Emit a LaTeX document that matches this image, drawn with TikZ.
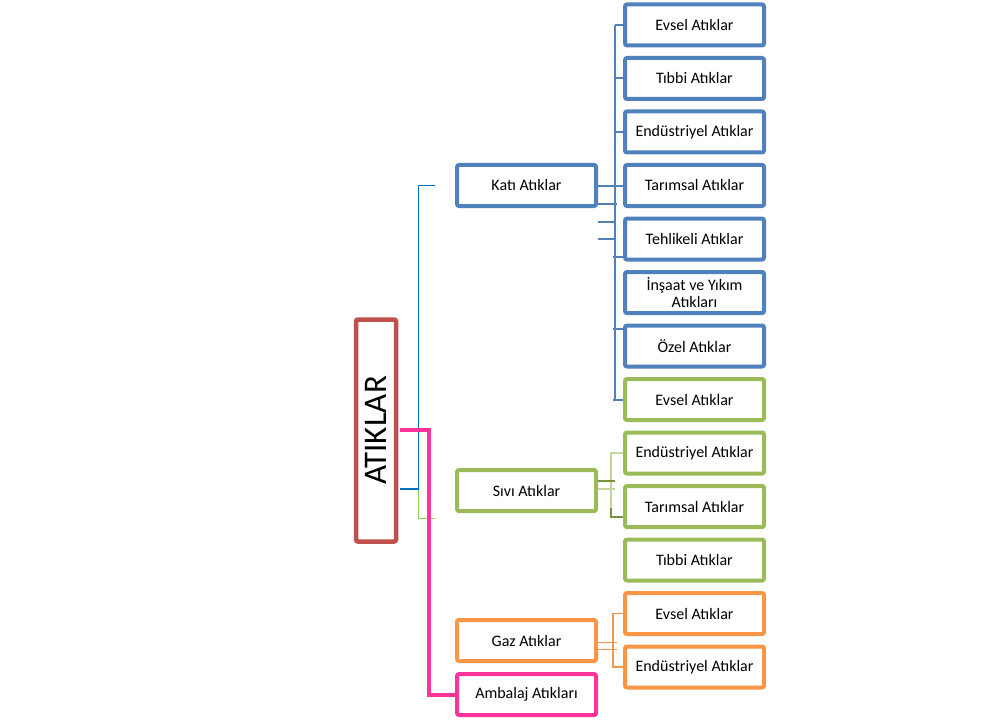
\documentclass[tikz,border=0pt]{standalone}
\usepackage{fontspec}
\setmainfont{Carlito}
\usetikzlibrary{calc,positioning}
\usepackage{xcolor}

\definecolor{katiblue}{HTML}{4F81BD}
\definecolor{sivigreen}{HTML}{9BBB59}
\definecolor{gazorange}{HTML}{F79646}
\definecolor{atikred}{HTML}{C0504D}
\definecolor{ambalajpink}{HTML}{FF3399}
\definecolor{linkblue}{HTML}{0070C0}
\definecolor{linkgreen}{HTML}{92D050}
\definecolor{sivilight}{HTML}{C3D69B}
\definecolor{sividark}{HTML}{77933C}

\tikzset{
  kutu/.style={draw, fill=white, rounded corners=2pt, line width=4pt,
    minimum width=139pt, minimum height=41pt, inner sep=2pt, align=center,
    font=\fontsize{16}{17}\selectfont},
  katikutu/.style={kutu, draw=katiblue},
  sivikutu/.style={kutu, draw=sivigreen},
  gazkutu/.style={kutu, draw=gazorange},
  pinkkutu/.style={kutu, draw=ambalajpink},
  katilink/.style={draw=katiblue, line width=2pt},
}

\begin{document}
\begin{tikzpicture}[x=1pt, y=-1pt]
    \useasboundingbox (0,0) rectangle (981,722);
    % Main box
    \node[draw=atikred, fill=white, rounded corners=2pt, line width=4.5pt,
      minimum width=40pt, minimum height=222pt, inner sep=0pt] (atiklar) at (376,430.5) {};
    \node[rotate=90, font=\fontsize{33}{33}\selectfont] at (atiklar.center) {ATIKLAR};
    % Second level boxes
    \node[katikutu] (kati) at (526.5,185.5) {Katı Atıklar};
    \node[sivikutu] (sivi) at (526.5,490.5) {Sıvı Atıklar};
    \node[gazkutu] (gaz) at (526.5,640.5) {Gaz Atıklar};
    \node[pinkkutu] (ambalaj) at (526.5,694.5) {Ambalaj Atıkları};
    % Third level boxes
    \node[katikutu] (kEvsel) at (694.5,25) {Evsel Atıklar};
    \node[katikutu] (kTibbi) at (694.5,78.5) {Tıbbi Atıklar};
    \node[katikutu] (kEndustri) at (694.5,132) {Endüstriyel Atıklar};
    \node[katikutu] (kTarim) at (694.5,185.5) {Tarımsal Atıklar};
    \node[katikutu] (kTehlike) at (694.5,239) {Tehlikeli Atıklar};
    \node[katikutu] (kInsaat) at (694.5,292.5) {İnşaat ve Yıkım\\Atıkları};
    \node[katikutu] (kOzel) at (694.5,346) {Özel Atıklar};
    \node[sivikutu] (sEvsel) at (694.5,399.5) {Evsel Atıklar};
    \node[sivikutu] (sEndustri) at (694.5,453) {Endüstriyel Atıklar};
    \node[sivikutu] (sTarim) at (694.5,506.5) {Tarımsal Atıklar};
    \node[sivikutu] (sTibbi) at (694.5,560) {Tıbbi Atıklar};
    \node[gazkutu] (gEvsel) at (694.5,613.5) {Evsel Atıklar};
    \node[gazkutu] (gEndustri) at (694.5,667) {Endüstriyel Atıklar};
    % Free ends in front of the second level
    \coordinate (katiIn) at (435,185.5);
    \coordinate (siviIn) at (435,518.5);
    \coordinate (katiBus) at (615,0);
    % Links from the main box
    \draw[linkgreen, line width=1.5pt] ($(atiklar.east)+(2,1)$) -- ++(18,0) |- (siviIn);
    \draw[linkblue, line width=1.5pt] ($(atiklar.east)+(2,58.5)$) -- ++(18,0) |- (katiIn);
    \draw[ambalajpink, line width=4pt] ($(atiklar.east)+(2,-0.5)$) -- ++(29,0) |- (ambalaj.west);
    % Katı links
    \draw[katilink] (katiBus |- kEvsel.west) -- (katiBus |- sEvsel.west);
    \draw[katilink] (kati.east) -- (kTarim.west);
    \draw[katilink] ($(kati.east)+(0,18.5)$) -- ++(19,0);
    \draw[katilink] ($(kati.east)+(0,36)$) -- ++(17,0);
    \draw[katilink] ($(kati.east)+(0,53)$) -- ++(17,0);
    \draw[katilink] (katiBus |- kEvsel.west) -- (kEvsel.west);
    \draw[katilink] (katiBus |- kTibbi.west) -- (kTibbi.west);
    \draw[katilink] (katiBus |- kEndustri.west) -- (kEndustri.west);
    \draw[katilink] ($(kTehlike.west)+(0,18)$) -- ++(-10,0);
    \draw[katilink] ($(kOzel.west)+(0,-17)$) -- ++(-10,0);
    \draw[katilink] (sEvsel.west) -- ++(-10,0);
    % Sıvı links
    \draw[sivilight, line width=2pt] ($(sivi.east)+(0,-1.5)$) -- ++(17,0);
    \draw[sivilight, line width=1.5pt] (sEndustri.west) -- ++(-12,0) |- ($(sTarim.west)+(0,10.5)$);
    \draw[sividark, line width=2pt] ($(sivi.east)+(0,-9.5)$) -- ++(17,0);
    \draw[sividark, line width=1.5pt] ($(sTarim.west)+(0,10.5)$) -- ++(-12,0) -- ++(0,-9);
    % Gaz links
    \draw[gazorange, line width=1.2pt, double=white, double distance=6.5pt] ($(gaz.east)+(0,5.5)$) -- ++(19,0);
    \draw[gazorange, line width=1.5pt] (gEvsel.west) -- ++(-10,0) |- (gEndustri.west);
\end{tikzpicture}
\end{document}
